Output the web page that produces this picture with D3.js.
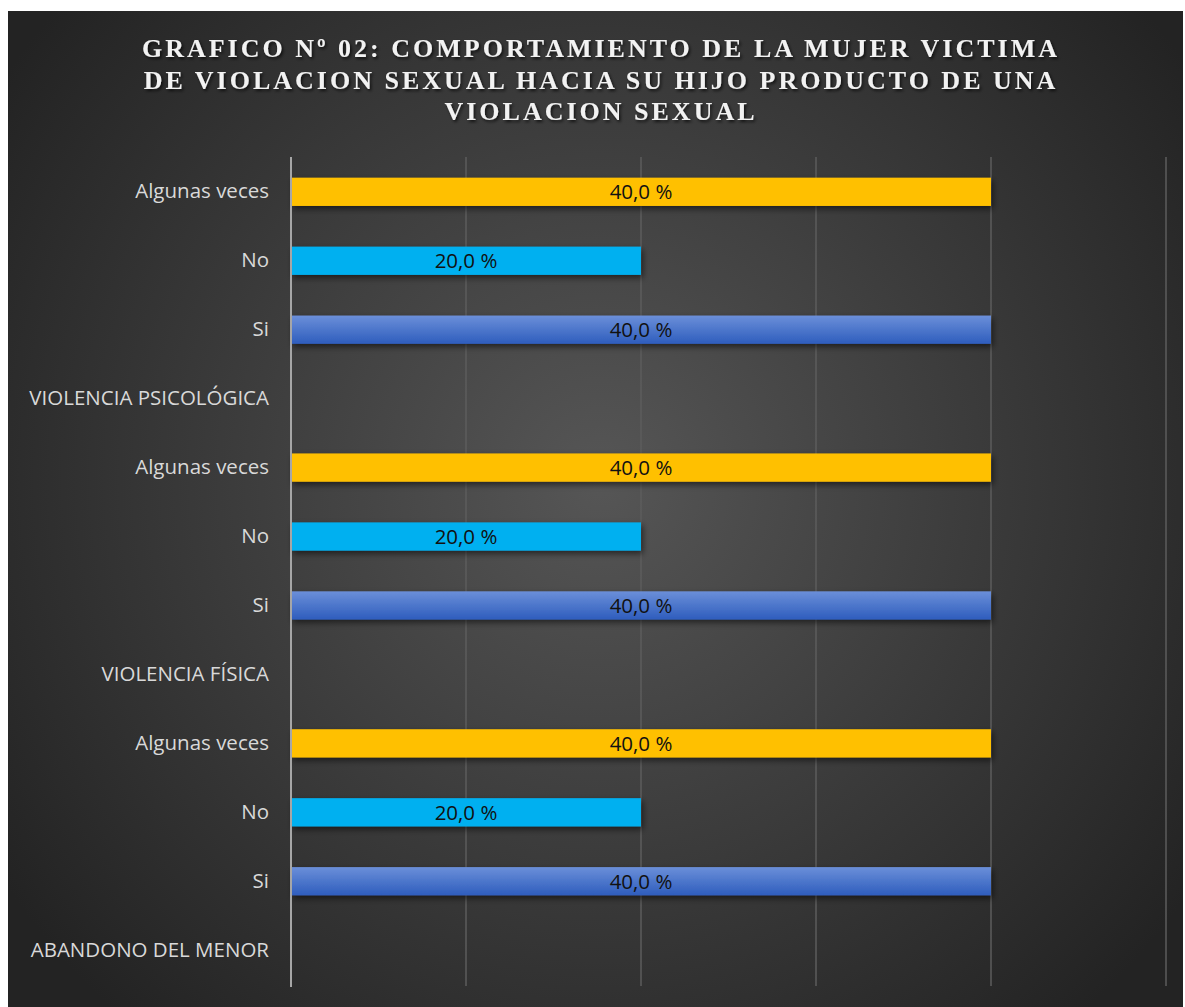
<!DOCTYPE html>
<html>
<head>
<meta charset="utf-8">
<script src="https://cdn.jsdelivr.net/npm/d3@7"></script>
<style>
  body { margin: 0; background: #ffffff; }
  svg { display: block; }
</style>
</head>
<body>
<div id="chart"></div>
<script>
// rows listed top to bottom, as drawn
const categories = [
  'Algunas veces', 'No', 'Si', 'VIOLENCIA PSICOLÓGICA',
  'Algunas veces', 'No', 'Si', 'VIOLENCIA FÍSICA',
  'Algunas veces', 'No', 'Si', 'ABANDONO DEL MENOR',
];
const values = [40, 20, 40, null, 40, 20, 40, null, 40, 20, 40, null];
const kinds = ['alg', 'no', 'si', null, 'alg', 'no', 'si', null, 'alg', 'no', 'si', null];
const xTicks = [0, 10, 20, 30, 40, 50];
const titleLines = [
  'GRAFICO Nº 02: COMPORTAMIENTO DE LA MUJER VICTIMA',
  'DE VIOLACION SEXUAL HACIA SU HIJO PRODUCTO DE UNA',
  'VIOLACION SEXUAL',
];

const W = 1185, H = 1007;
const frame = { left: 8, top: 11, right: 1183, bottom: 1007 };
const plot = { left: 291, right: 1166, top: 157, bottom: 985 };

const svg = d3.select('#chart').append('svg')
  .attr('width', W)
  .attr('height', H);

const defs = svg.append('defs');

const bg = defs.append('radialGradient')
  .attr('id', 'bg')
  .attr('gradientUnits', 'userSpaceOnUse')
  .attr('cx', 600).attr('cy', 480).attr('r', 720);
bg.append('stop').attr('offset', '0%').attr('stop-color', '#565656');
bg.append('stop').attr('offset', '100%').attr('stop-color', '#232323');

const siGrad = defs.append('linearGradient')
  .attr('id', 'siGrad')
  .attr('x1', 0).attr('y1', 0).attr('x2', 0).attr('y2', 1);
siGrad.append('stop').attr('offset', '0%').attr('stop-color', '#6b8fd9');
siGrad.append('stop').attr('offset', '100%').attr('stop-color', '#2e5dbd');

const shadow = defs.append('filter')
  .attr('id', 'shadow')
  .attr('x', '-5%').attr('y', '-50%').attr('width', '110%').attr('height', '220%');
shadow.append('feDropShadow')
  .attr('dx', 2).attr('dy', 3).attr('stdDeviation', 3)
  .attr('flood-color', '#000').attr('flood-opacity', 0.55);

const tshadow = defs.append('filter').attr('id', 'tshadow');
tshadow.append('feDropShadow')
  .attr('dx', 1.5).attr('dy', 2).attr('stdDeviation', 1.5)
  .attr('flood-color', '#000').attr('flood-opacity', 0.7);

svg.append('rect')
  .attr('x', frame.left).attr('y', frame.top)
  .attr('width', frame.right - frame.left)
  .attr('height', frame.bottom - frame.top)
  .attr('fill', 'url(#bg)');

// title
svg.append('g')
  .attr('filter', 'url(#tshadow)')
  .selectAll('text')
  .data(titleLines)
  .join('text')
  .attr('x', 601)
  .attr('y', (d, i) => 57 + i * 31.5)
  .attr('text-anchor', 'middle')
  .attr('font-family', '"Liberation Serif", "Times New Roman", serif')
  .attr('font-weight', 'bold')
  .attr('font-size', 26)
  .attr('letter-spacing', 3.0)
  .attr('fill', '#f2f2f2')
  .text(d => d);

const x = d3.scaleLinear()
  .domain([0, 50])
  .range([plot.left, plot.right]);

const y = d3.scaleBand()
  .domain(d3.range(categories.length))
  .range([plot.top, plot.bottom])
  .paddingInner(0.59)
  .paddingOuter(0.3);

// grid lines
svg.append('g')
  .selectAll('line')
  .data(xTicks.slice(1))
  .join('line')
  .attr('x1', d => x(d)).attr('x2', d => x(d))
  .attr('y1', plot.top).attr('y2', plot.bottom + 1)
  .attr('stroke', '#5c5c5c')
  .attr('stroke-width', 1.5);

const colors = { alg: '#ffc000', no: '#00b0f0', si: 'url(#siGrad)' };

const rows = categories.map((c, i) => ({ i, cat: c, value: values[i], kind: kinds[i] }));
const barRows = rows.filter(d => d.value != null);

svg.append('g')
  .selectAll('rect')
  .data(barRows)
  .join('rect')
  .attr('x', x(0))
  .attr('y', d => y(d.i))
  .attr('width', d => x(d.value) - x(0))
  .attr('height', y.bandwidth())
  .attr('fill', d => colors[d.kind])
  .attr('filter', 'url(#shadow)');

svg.append('g')
  .selectAll('text')
  .data(barRows)
  .join('text')
  .attr('x', d => (x(0) + x(d.value)) / 2)
  .attr('y', d => y(d.i) + y.bandwidth() / 2)
  .attr('dy', '0.36em')
  .attr('text-anchor', 'middle')
  .attr('font-family', '"Open Sans", "Noto Sans", sans-serif')
  .attr('font-size', 20.5)
  .attr('fill', '#111')
  .text(d => d3.format('.1f')(d.value).replace('.', ',') + ' %');

// category axis
const yAxis = svg.append('g')
  .attr('transform', `translate(${plot.left},0)`)
  .call(d3.axisLeft(y).tickSize(0).tickPadding(22).tickFormat(i => categories[i]));
yAxis.select('.domain').remove();
yAxis.selectAll('text')
  .attr('font-family', '"Open Sans", "Noto Sans", sans-serif')
  .attr('font-size', 20.5)
  .attr('fill', '#d9d9d9');

svg.append('line')
  .attr('x1', plot.left).attr('x2', plot.left)
  .attr('y1', plot.top).attr('y2', plot.bottom + 2)
  .attr('stroke', '#a6a6a6')
  .attr('stroke-width', 2);
</script>
</body>
</html>
